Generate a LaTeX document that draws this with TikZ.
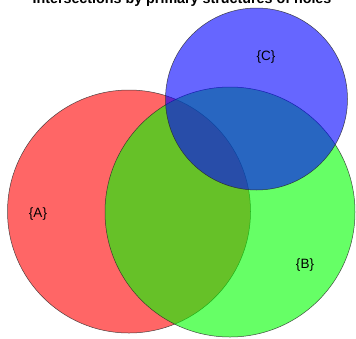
\documentclass[tikz,border=0pt]{standalone}
\usepackage{fontspec}
\setmainfont{Liberation Sans}
\begin{document}
\begin{tikzpicture}[x=1pt,y=-1pt,
  vset/.style={circle, draw=black!85, line width=0.5pt, fill opacity=0.6, draw opacity=0.8, inner sep=0},
  lab/.style={font=\fontsize{13.5}{16}\selectfont, inner sep=0},
  ttl/.style={font=\bfseries\fontsize{14.3}{16}\selectfont, inner sep=0, anchor=base}]
\useasboundingbox (0,0) rectangle (356,338);
\clip (0,0) rectangle (356,338);
\fill[white] (0,0) rectangle (356,338);
\node[vset, fill=red, minimum size=243pt] (A) at (129,211.5) {};
\node[vset, fill=green, minimum size=250pt] (B) at (230,212) {};
\node[vset, fill=blue, minimum size=182pt] (C) at (256.5,99) {};
\node[lab] (la) at (38,214) {\{A\}};
\node[lab] (lb) at (305,265) {\{B\}};
\node[lab] (lc) at (266,57) {\{C\}};
\node[ttl] (title) at (182,3) {Intersections by primary structures of holes};
\end{tikzpicture}
\end{document}
